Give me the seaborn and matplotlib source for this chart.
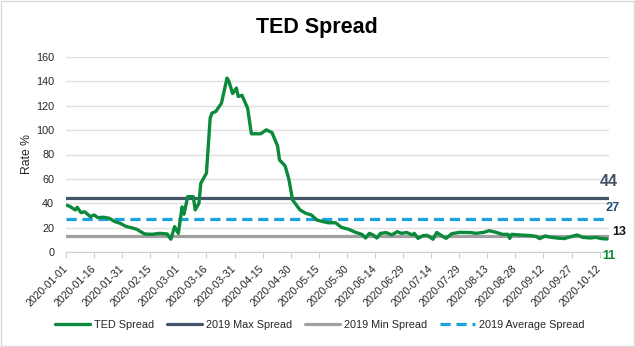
import matplotlib
matplotlib.use("Agg")
import matplotlib.pyplot as plt
import seaborn as sns
import pandas as pd
import numpy as np

# ---- data ----
start_date = "2020-01-01"
days_since_jan1 = [0, 2, 3, 5, 6, 8, 10, 13, 15, 17, 20, 23, 26, 29, 32, 36, 38, 40, 42, 46,
                   50, 54, 56, 58, 60, 62, 63, 65, 68, 69, 71, 72, 75, 77, 78, 80, 83, 86, 87, 89,
                   91, 92, 94, 97, 99, 104, 107, 110, 112, 113, 114, 117, 119, 121, 125, 128, 131, 134, 137, 140,
                   144, 147, 151, 155, 158, 160, 162, 164, 166, 168, 171, 174, 177, 179, 182, 185, 186, 188, 191, 193,
                   196, 198, 200, 203, 206, 210, 216, 219, 223, 226, 230, 233, 236, 237, 238, 242, 248, 251, 253, 256,
                   258, 262, 266, 269, 273, 276, 280, 283, 286, 289]
ted_spread = [38.5, 37.5, 36.4, 34.5, 36.7, 32.3, 33.0, 29.0, 30.4, 28.2, 28.5, 27.7, 25.0, 23.5, 21.0, 19.5, 18.5, 16.5, 14.8, 14.5,
              15.3, 14.8, 10.5, 20.8, 15.3, 37.0, 31.0, 45.4, 45.4, 34.5, 40.0, 56.4, 64.7, 110.0, 114.0, 115.3, 122.0, 142.7, 140.0, 130.0,
              134.5, 127.6, 128.6, 118.0, 97.0, 97.0, 100.2, 98.0, 90.6, 87.0, 75.6, 70.7, 60.0, 42.7, 34.5, 31.8, 30.4, 26.3, 25.0, 24.0,
              24.0, 20.3, 18.6, 15.9, 14.5, 11.5, 15.3, 14.0, 11.5, 15.3, 15.9, 14.0, 16.7, 15.3, 16.0, 14.0, 15.3, 11.2, 13.6, 13.6,
              10.5, 16.0, 14.0, 11.2, 15.0, 16.1, 16.0, 15.3, 16.1, 17.5, 16.0, 14.5, 14.5, 11.2, 14.5, 14.0, 13.5, 12.8, 11.0, 13.2,
              12.3, 11.5, 11.0, 12.3, 14.0, 12.0, 11.5, 12.0, 11.0, 10.7]
max_2019 = 44
min_2019 = 13
avg_2019 = 27
last_value_label = "11"
series_names = ["TED Spread", "2019 Max Spread", "2019 Min Spread", "2019 Average Spread"]

dates = pd.Timestamp(start_date) + pd.to_timedelta(days_since_jan1, unit="D")
df = pd.DataFrame({"date": dates, "value": ted_spread})

# ---- style ----
sns.set_theme(style="white")
plt.rcParams["font.family"] = ["Liberation Sans", "DejaVu Sans"]

c_green = "#0a8a3a"
c_max = "#44546a"
c_min = "#a0a0a0"
c_avg = "#1aa3e0"
c_grid = "#e0e0e0"
c_text = "#262626"

fig = plt.figure(figsize=(6.35, 3.47), dpi=100)
ax = fig.add_axes([66 / 635, 1 - 252 / 347, (609 - 66) / 635, (252 - 57) / 347])

ax.yaxis.grid(True, color=c_grid, linewidth=1.0)
ax.set_axisbelow(True)

ax.axhline(max_2019, color=c_max, linewidth=2.3, label=series_names[1], zorder=2)
ax.axhline(min_2019, color=c_min, linewidth=2.3, label=series_names[2], zorder=2)
ax.axhline(avg_2019, color=c_avg, linewidth=2.3, linestyle=(0, (3.2, 1.8)), label=series_names[3], zorder=2)
sns.lineplot(data=df, x="date", y="value", ax=ax, color=c_green, linewidth=2.4,
             label=series_names[0], zorder=3)

ax.set_ylim(0, 160)
ax.set_yticks(np.arange(0, 161, 20))
ax.set_xlim(pd.Timestamp("2020-01-01"), pd.Timestamp("2020-10-17"))
tick_dates = pd.date_range("2020-01-01", "2020-10-12", freq="15D")
ax.set_xticks(tick_dates)
ax.set_xticklabels([d.strftime("%Y-%m-%d") for d in tick_dates], rotation=45, ha="right", va="center",
                   rotation_mode="anchor", fontsize=7.6, color=c_text)
ax.tick_params(axis="y", labelsize=7.8, colors=c_text, length=0, pad=8.5)
ax.tick_params(axis="x", length=4, width=0.8, color="#d0d0d0", pad=6.5, direction="out", bottom=True)
for lbl in ax.get_yticklabels():
    lbl.set_color(c_text)

for s in ["top", "right", "left"]:
    ax.spines[s].set_visible(False)
ax.spines["bottom"].set_color("#d0d0d0")
ax.spines["bottom"].set_linewidth(0.8)

ax.set_xlabel("")
ax.set_ylabel("Rate %", fontsize=8.8, color=c_text)
ax.yaxis.set_label_coords(-(66 - 33) / 543, 0.5)

# end labels
yt = ax.get_yaxis_transform()
ax.text(1.0, max_2019 + 14, str(max_2019), transform=yt, ha="center", va="center",
        fontsize=11.5, fontweight="bold", color=c_max)
ax.text(1.007, avg_2019 + 9, str(avg_2019), transform=yt, ha="center", va="center",
        fontsize=9.2, fontweight="bold", color="#1f4e79")
ax.text(1.018, min_2019 + 3.4, str(min_2019), transform=yt, ha="center", va="center",
        fontsize=9, fontweight="bold", color="#111111")
ax.text(1.0, -3.4, last_value_label, transform=yt, ha="center", va="center",
        fontsize=9, fontweight="bold", color=c_green)

fig.text(317 / 635, 1 - 27 / 347, "TED Spread", ha="center", va="center", fontsize=15.5,
         fontweight="bold", color="black")

handles, labels = ax.get_legend_handles_labels()
order = [labels.index(n) for n in series_names]
if ax.get_legend():
    ax.get_legend().remove()
leg = fig.legend([handles[i] for i in order], [labels[i] for i in order],
                 loc="center", bbox_to_anchor=(320 / 635, 1 - 325 / 347), ncol=4, frameon=False,
                 fontsize=7.8, handlelength=3.2, columnspacing=1.2, handletextpad=0.4)
for t in leg.get_texts():
    t.set_color(c_text)

border = plt.Rectangle((0.002, 0.002), 0.996, 0.996, transform=fig.transFigure, fill=False,
                       edgecolor="#d9d9d9", linewidth=1.0)
fig.patches.append(border)

fig.savefig("out.png", dpi=100)
